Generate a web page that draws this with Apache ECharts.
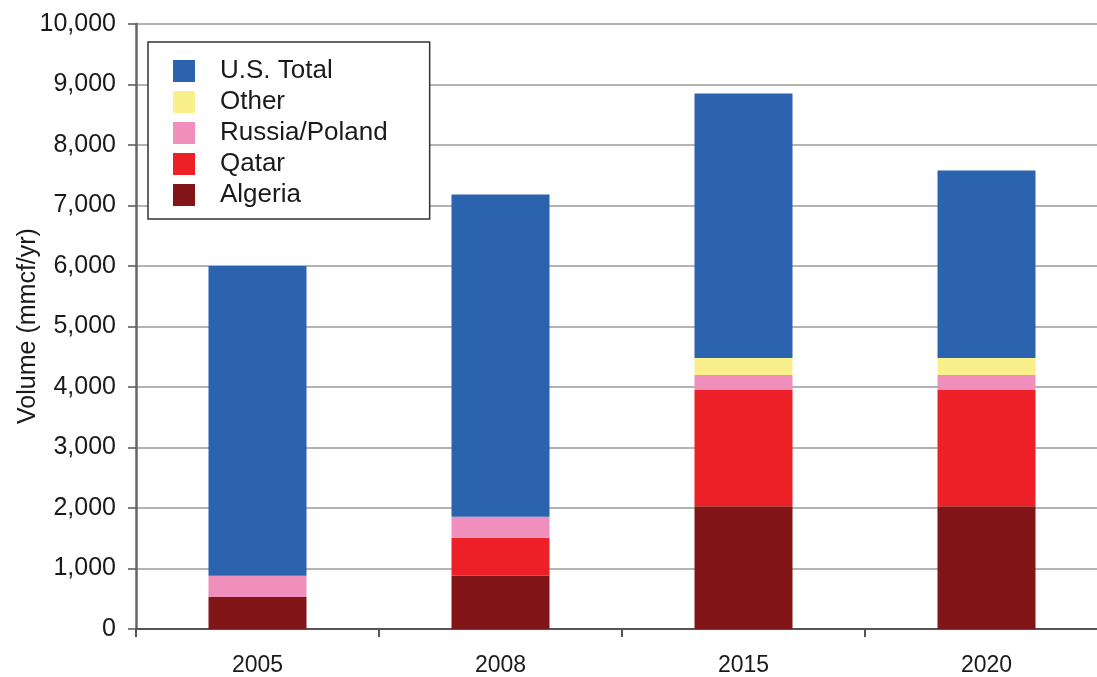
<!DOCTYPE html>
<html>
<head>
<meta charset="utf-8">
<script src="https://cdn.jsdelivr.net/npm/echarts@6/dist/echarts.min.js"></script>
<style>
  html, body { margin: 0; padding: 0; background: #ffffff; overflow: hidden; }
  /* the plot area continues a little past the right edge of the window */
  #chart { width: 1108px; height: 677px; }
</style>
</head>
<body>
<div id="chart"></div>
<script>
// LNG import volumes by source, stacked per year (mmcf/yr)
const years = ['2005', '2008', '2015', '2020'];
const algeria = [530, 880, 2030, 2030];
const qatar = [0, 630, 1920, 1920];
const russiaPoland = [350, 345, 250, 250];
const other = [0, 0, 280, 280];
const usTotal = [5120, 5325, 4370, 3100];

const yTicks = { min: 0, max: 10000, interval: 1000 };
const yAxisTitle = 'Volume (mmcf/yr)';

const FONT = '"Liberation Sans", Arial, sans-serif';
const colors = {
  'Algeria': '#821518',
  'Qatar': '#ee2027',
  'Russia/Poland': '#f08fbc',
  'Other': '#f9f08c',
  'U.S. Total': '#2b63ae'
};

function stacked(name, data) {
  return {
    name: name,
    type: 'bar',
    stack: 'total',
    barWidth: 98,
    data: data,
    itemStyle: { color: colors[name] },
    emphasis: { disabled: true }
  };
}

const chart = echarts.init(document.getElementById('chart'), null, { renderer: 'canvas' });
chart.setOption({
  animation: false,
  backgroundColor: '#ffffff',
  textStyle: { fontFamily: FONT, color: '#222' },
  grid: { left: 136, top: 24, bottom: 48, right: 0, containLabel: false, outerBoundsMode: 'none' },
  // vertical axis title, placed beside the tick labels
  graphic: [{
    type: 'text',
    x: 28,
    y: 326,
    rotation: Math.PI / 2,
    style: {
      text: yAxisTitle,
      font: '25px ' + FONT,
      fill: '#1a1a1a',
      textAlign: 'center',
      textVerticalAlign: 'middle'
    }
  }],
  legend: {
    orient: 'vertical',
    left: 148,
    top: 42,
    data: ['U.S. Total', 'Other', 'Russia/Poland', 'Qatar', 'Algeria'],
    itemWidth: 22,
    itemHeight: 22,
    itemGap: 5,
    icon: 'rect',
    padding: [16, 42, 11, 25],
    backgroundColor: '#ffffff',
    borderColor: '#333333',
    borderWidth: 1.5,
    borderRadius: 0,
    selectedMode: false,
    textStyle: {
      fontFamily: FONT,
      fontSize: 26,
      lineHeight: 22,
      color: '#1a1a1a',
      padding: [0, 0, 0, 20]
    }
  },
  xAxis: {
    type: 'category',
    data: years,
    boundaryGap: true,
    axisLine: { lineStyle: { color: '#555', width: 2 } },
    axisTick: { show: true, length: 8, alignWithLabel: false, lineStyle: { color: '#555', width: 2 } },
    axisLabel: { fontFamily: FONT, fontSize: 23, color: '#1a1a1a', margin: 25 }
  },
  yAxis: {
    type: 'value',
    min: yTicks.min,
    max: yTicks.max,
    interval: yTicks.interval,
    axisLine: { show: true, lineStyle: { color: '#666', width: 2.5 } },
    axisTick: { show: true, length: 8, lineStyle: { color: '#555', width: 1.5 } },
    axisLabel: {
      fontFamily: FONT,
      fontSize: 25,
      color: '#1a1a1a',
      margin: 20,
      formatter: v => v.toLocaleString('en-US')
    },
    splitLine: { show: true, lineStyle: { color: '#9a9a9a', width: 1.5 } }
  },
  series: [
    stacked('Algeria', algeria),
    stacked('Qatar', qatar),
    stacked('Russia/Poland', russiaPoland),
    stacked('Other', other),
    stacked('U.S. Total', usTotal)
  ]
});
</script>
</body>
</html>
